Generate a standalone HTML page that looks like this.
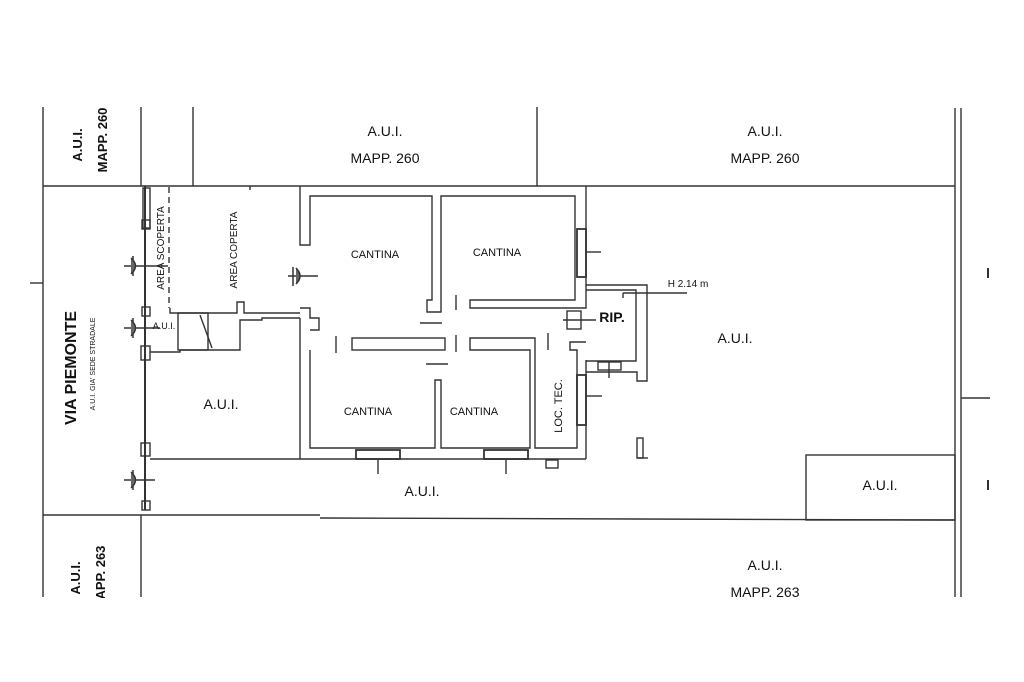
<!DOCTYPE html>
<html><head><meta charset="utf-8"><style>
html,body{margin:0;padding:0;background:#fff;}
svg{display:block;}
text{font-family:"Liberation Sans",sans-serif;fill:#111;}
</style></head><body>
<svg width="1024" height="682" viewBox="0 0 1024 682" xmlns="http://www.w3.org/2000/svg">
<rect width="1024" height="682" fill="#fff"/>
<g stroke="#333" stroke-width="1.4" fill="none">
<line x1="43" y1="107" x2="43" y2="597"/>
<line x1="141" y1="107" x2="141" y2="186"/>
<line x1="141" y1="515" x2="141" y2="597"/>
<line x1="193" y1="107" x2="193" y2="186"/>
<line x1="537" y1="107" x2="537" y2="186"/>
<line x1="955" y1="108" x2="955" y2="597"/>
<line x1="961" y1="108" x2="961" y2="597"/>
<line x1="961" y1="398" x2="990" y2="398"/>
<line x1="43" y1="186" x2="955" y2="186"/>
<line x1="43" y1="515" x2="320" y2="515"/>
<line x1="320" y1="518" x2="955" y2="520"/>
<line x1="30" y1="283" x2="43" y2="283"/>
<rect x="806" y="455" width="149" height="65"/>
<line x1="169" y1="187" x2="169" y2="308" stroke-dasharray="6,4"/>
<line x1="145" y1="186" x2="145" y2="510" stroke-width="2"/>
<rect x="143" y="188" width="7" height="40"/>
<rect x="142" y="220" width="8" height="9"/>
<rect x="142" y="307" width="8" height="9"/>
<rect x="141" y="346" width="9" height="14"/>
<rect x="141" y="443" width="9" height="13"/>
<rect x="142" y="501" width="8" height="9"/>
<polyline points="170,308 170,313 237,313 237,302 244,302 244,313 300,313"/>
<polyline points="150,352 180,352 180,350 240,350 240,320 262,320 262,318 300,318"/>
<rect x="178" y="313" width="30" height="37"/>
<line x1="200" y1="315" x2="212" y2="348"/>
<line x1="150" y1="459" x2="300" y2="459"/>
<line x1="300" y1="318" x2="300" y2="459"/>
<line x1="250" y1="186" x2="250" y2="190"/>
<polyline points="300,186 300,245 310,245 310,196 432,196 432,300 427,300 427,312 441,312 441,196 575,196 575,300 470,300 470,308 586,308 586,286 586,186"/>
<polyline points="310,350 310,448 435,448 435,380 441,380 441,448 530,448 530,350 470,350 470,338 535,338 535,448 577,448 577,350 570,350 570,342 586,342"/>
<polyline points="300,308 310,308 310,318 319,318 319,330 310,330"/>
<line x1="300" y1="459" x2="586" y2="459"/>
<line x1="586" y1="360" x2="586" y2="459"/>
<rect x="352" y="338" width="93" height="12"/>
<line x1="336" y1="336" x2="336" y2="353"/>
<line x1="456" y1="295" x2="456" y2="310"/>
<line x1="456" y1="335" x2="456" y2="352"/>
<line x1="548" y1="333" x2="548" y2="350"/>
<line x1="420" y1="323" x2="442" y2="323"/>
<line x1="426" y1="364" x2="448" y2="364"/>
<polyline points="586,285 647,285 647,381 637,381 637,372 596,372 586,372"/>
<polyline points="586,290 636,290 636,361 586,361"/>
<line x1="623" y1="293" x2="687" y2="293"/>
<line x1="623" y1="293" x2="623" y2="298"/>
<rect x="577" y="229" width="9" height="48" stroke-width="1.8"/>
<line x1="586" y1="252" x2="601" y2="252"/>
<rect x="577" y="375" width="9" height="50" stroke-width="1.8"/>
<line x1="586" y1="396" x2="602" y2="396"/>
<rect x="598" y="362" width="23" height="8"/>
<line x1="609" y1="362" x2="609" y2="378"/>
<rect x="356" y="450" width="44" height="9" stroke-width="1.8"/>
<line x1="378" y1="459" x2="378" y2="474"/>
<rect x="484" y="450" width="44" height="9" stroke-width="1.8"/>
<line x1="506" y1="459" x2="506" y2="474"/>
<rect x="567" y="311" width="14" height="18"/>
<line x1="563" y1="320" x2="596" y2="320"/>
<rect x="546" y="460" width="12" height="8"/>
<rect x="637" y="438" width="6" height="20"/>
<line x1="637" y1="458" x2="648" y2="458"/>
<g stroke-width="1.5">
<line x1="124" y1="266" x2="168" y2="266"/><line x1="133" y1="256" x2="133" y2="276"/><path d="M131,258 q9,8 0,16" fill="#666"/>
<line x1="124" y1="328" x2="160" y2="328"/><line x1="133" y1="318" x2="133" y2="338"/><path d="M131,320 q9,8 0,16" fill="#666"/>
<line x1="124" y1="480" x2="155" y2="480"/><line x1="133" y1="470" x2="133" y2="490"/><path d="M131,472 q9,8 0,16" fill="#666"/>
<line x1="288" y1="276" x2="318" y2="276"/><line x1="293" y1="267" x2="293" y2="286"/><path d="M296,268 q8,8 0,16" fill="#666"/>
</g>
</g>
<rect x="987" y="268" width="2" height="10" fill="#333"/>
<rect x="987" y="480" width="2" height="10" fill="#333"/>
<g font-size="14" text-anchor="middle">
<text x="385" y="136">A.U.I.</text>
<text x="385" y="163">MAPP. 260</text>
<text x="765" y="136">A.U.I.</text>
<text x="765" y="163">MAPP. 260</text>
<text x="765" y="570">A.U.I.</text>
<text x="765" y="597">MAPP. 263</text>
<text x="735" y="343">A.U.I.</text>
<text x="221" y="409">A.U.I.</text>
<text x="422" y="496">A.U.I.</text>
<text x="880" y="490">A.U.I.</text>
</g>
<g font-size="11" text-anchor="middle">
<text x="375" y="258">CANTINA</text>
<text x="497" y="256">CANTINA</text>
<text x="368" y="415">CANTINA</text>
<text x="474" y="415">CANTINA</text>
<text x="688" y="287" font-size="10">H 2.14 m</text>
<text x="164" y="329" font-size="9">A.U.I.</text>
</g>
<text x="612" y="322" font-size="14" text-anchor="middle" font-weight="bold">RIP.</text>
<text transform="translate(562,406) rotate(-90)" font-size="11" text-anchor="middle">LOC. TEC.</text>
<text transform="translate(164,248) rotate(-90)" font-size="10" text-anchor="middle">AREA SCOPERTA</text>
<text transform="translate(237,250) rotate(-90)" font-size="10" text-anchor="middle">AREA COPERTA</text>
<text transform="translate(76,368) rotate(-90)" font-size="16" text-anchor="middle" font-weight="bold">VIA  PIEMONTE</text>
<text transform="translate(95,364) rotate(-90)" font-size="7" text-anchor="middle">A.U.I. GIA' SEDE STRADALE</text>
<text transform="translate(82,145) rotate(-90)" font-size="13" text-anchor="middle" font-weight="bold">A.U.I.</text>
<text transform="translate(107,140) rotate(-90)" font-size="13" text-anchor="middle" font-weight="bold">MAPP. 260</text>
<text transform="translate(80,578) rotate(-90)" font-size="13" text-anchor="middle" font-weight="bold">A.U.I.</text>
<text transform="translate(105,578) rotate(-90)" font-size="13" text-anchor="middle" font-weight="bold">MAPP. 263</text>
<rect x="0" y="598" width="1024" height="84" fill="#fff"/>
</svg>
</body></html>
